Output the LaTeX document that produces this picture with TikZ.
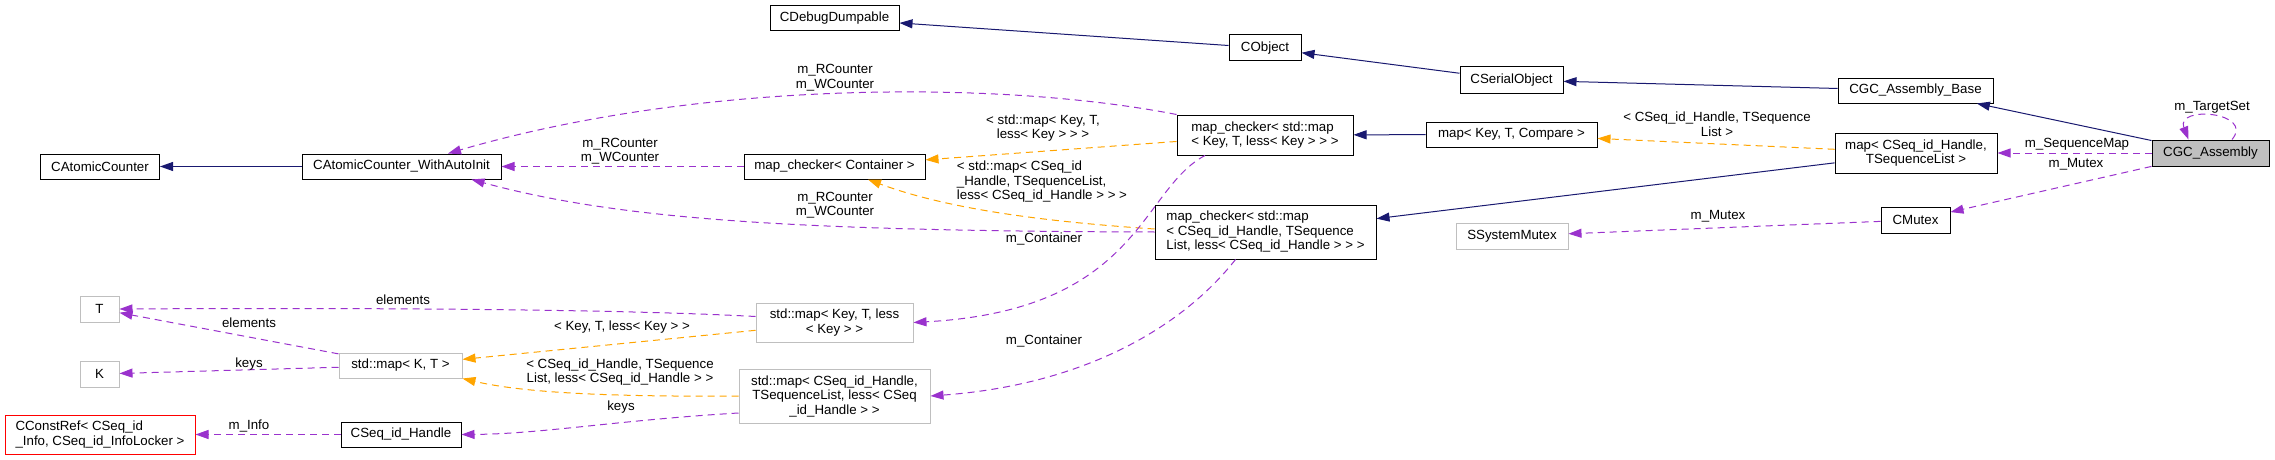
\documentclass[tikz,border=0pt]{standalone}
\usepackage{fontspec}
\setmainfont{Liberation Sans}
\usetikzlibrary{arrows.meta,calc}
\definecolor{navy}{HTML}{191970}
\definecolor{purp}{HTML}{9A32CD}
\definecolor{orng}{HTML}{FFA500}
\definecolor{gry}{HTML}{BFBFBF}
\tikzset{
  nd/.style={draw=black, fill=white, line width=1pt, inner sep=0pt, align=center},
  gnd/.style={nd, draw=gry},
  rnd/.style={nd, draw=red},
  lbl/.style={inner sep=0pt, align=center},
  tip/.style={-{Triangle[length=13pt,width=9pt]}},
  inh/.style={draw=navy, line width=1pt, tip},
  mem/.style={draw=purp, line width=1pt, dash pattern=on 7pt off 5pt, tip},
  tpl/.style={draw=orng, line width=1pt, dash pattern=on 7pt off 5pt, tip}
}
\begin{document}
\begin{tikzpicture}[x=1pt,y=-1pt,font=\fontsize{13.3}{14.5}\selectfont]
\useasboundingbox[fill=white] (0,0) rectangle (2275,460);
% nodes
\node[nd, minimum width=119pt, minimum height=25pt] (CAC) at (100,166.5) {CAtomicCounter};
\node[nd, minimum width=199pt, minimum height=25pt] (AI) at (401.5,166.5) {CAtomicCounter\_WithAutoInit};
\node[nd, minimum width=129pt, minimum height=25pt] (CDD) at (834.5,18.5) {CDebugDumpable};
\node[nd, minimum width=72pt, minimum height=26pt] (CO) at (1265,48) {CObject};
\node[nd, minimum width=103pt, minimum height=26pt] (CSO) at (1511.5,80) {CSerialObject};
\node[nd, minimum width=155pt, minimum height=25pt] (CGB) at (1915.5,90.5) {CGC\_Assembly\_Base};
\node[nd, minimum width=162pt, minimum height=40pt] (MSQ) at (1916,153) {map< CSeq\_id\_Handle,\\TSequenceList >};
\node[nd, fill=gry, minimum width=117pt, minimum height=26pt] (CGC) at (2210.5,153) {CGC\_Assembly};
\node[nd, minimum width=69pt, minimum height=26pt] (CMX) at (1915.5,220) {CMutex};
\node[gnd, minimum width=112pt, minimum height=26pt] (SSM) at (1512,236) {SSystemMutex};
\node[nd, minimum width=171pt, minimum height=25pt] (MKTC) at (1511.5,134.5) {map< Key, T, Compare >};
\node[nd, align=left, minimum width=176pt, minimum height=40pt] (MCK) at (1265,135) {map\_checker< std::map\\< Key, T, less< Key > > >};
\node[nd, align=left, minimum width=221pt, minimum height=54pt] (MCS) at (1265.5,232) {map\_checker< std::map\\< CSeq\_id\_Handle, TSequence\\List, less< CSeq\_id\_Handle > > >};
\node[nd, minimum width=181pt, minimum height=25pt] (MCC) at (834.5,166.5) {map\_checker< Container >};
\node[gnd, minimum width=157pt, minimum height=39pt] (SK) at (834.5,322.5) {std::map< Key, T, less\\< Key > >};
\node[gnd, minimum width=191pt, minimum height=54pt] (SS) at (834.5,396) {std::map< CSeq\_id\_Handle,\\TSequenceList, less< CSeq\\\_id\_Handle > >};
\node[gnd, minimum width=39pt, minimum height=26pt] (T) at (99.5,309) {T};
\node[gnd, minimum width=39pt, minimum height=26pt] (K) at (99.5,374) {K};
\node[gnd, minimum width=123pt, minimum height=25pt] (SKT) at (400.5,365.5) {std::map< K, T >};
\node[nd, minimum width=120pt, minimum height=25pt] (CSH) at (401,434.5) {CSeq\_id\_Handle};
\node[rnd, align=left, minimum width=190pt, minimum height=39pt] (CCR) at (100,434.5) {CConstRef< CSeq\_id\\\_Info, CSeq\_id\_InfoLocker >};
% inheritance
\draw[inh] (AI) -- (CAC);
\draw[inh] (CO) -- (CDD);
\draw[inh] (CSO) -- (CO);
\draw[inh] (CGB) -- (CSO);
\draw[inh] (CGC) -- (CGB);
\draw[inh] (MKTC) -- (MCK);
\draw[inh] (MSQ) -- (MCS);
% template instances
\draw[tpl] (MSQ) -- (MKTC);
\draw[tpl] (MCK) -- (MCC);
\draw[tpl] ($(MCS.west)+(0,-3)$) .. controls (1050,222) and (950,210) .. ($(MCC.south)+(33.5,0)$);
\draw[tpl] (SK) -- (SKT);
\draw[tpl] (SS.west) .. controls (600,397) and (520,392) .. (SKT.south east);
% members
\draw[mem] (CGC) -- (MSQ);
\draw[mem] (CGC) -- (CMX);
\draw[mem] (CMX) -- (SSM);
\draw[mem] ($(CGC.north)+(21.5,0)$) .. controls (2255,112) and (2175,105) .. ($(CGC.north)+(-22,0)$);
\draw[mem] (MCC) -- (AI);
\draw[mem] (MCK.north west) .. controls (1000,80) and (700,80) .. ($(AI.north)+(46.5,0)$);
\draw[mem] (MCS.west) .. controls (800,231) and (620,220) .. ($(AI.south)+(70,0)$);
\draw[mem] ($(MCK.south)+(-60,0)$) .. controls (1140,190) and (1140,310) .. (SK.east);
\draw[mem] ($(MCS.south)+(-30,0)$) .. controls (1180,330) and (1080,385) .. (SS.east);
\draw[mem] ($(SK.west)+(0,-6)$) .. controls (600,308) and (300,308) .. (T.east);
\draw[mem] ($(SS.west)+(0,17)$) .. controls (620,420) and (540,434) .. (CSH.east);
\draw[mem] (SKT) -- (T);
\draw[mem] (SKT) -- (K);
\draw[mem] (CSH) -- (CCR);
% labels
\node[lbl] (l1) at (835,77.5) {m\_RCounter\\m\_WCounter};
\node[lbl] (l2) at (620,151) {m\_RCounter\\m\_WCounter};
\node[lbl] (l3) at (835,205) {m\_RCounter\\m\_WCounter};
\node[lbl] (l4) at (1043,128) {< std::map< Key, T,\\less< Key > > >};
\node[lbl, align=left] (l5) at (1042,182) {< std::map< CSeq\_id\\\_Handle, TSequenceList,\\less< CSeq\_id\_Handle > > >};
\node[lbl] (l6) at (1044,239) {m\_Container};
\node[lbl] (l7) at (1044,341) {m\_Container};
\node[lbl] (l8) at (1717,124) {< CSeq\_id\_Handle, TSequence\\List >};
\node[lbl] (l9) at (1718,216) {m\_Mutex};
\node[lbl] (l10) at (2212,107) {m\_TargetSet};
\node[lbl] (l11) at (2077,144) {m\_SequenceMap};
\node[lbl] (l12) at (2076,164) {m\_Mutex};
\node[lbl] (l13) at (403,300) {elements};
\node[lbl] (l14) at (249,323) {elements};
\node[lbl] (l15) at (249,364) {keys};
\node[lbl] (l16) at (249,426) {m\_Info};
\node[lbl] (l17) at (622,327) {< Key, T, less< Key > >};
\node[lbl] (l18) at (620,372) {< CSeq\_id\_Handle, TSequence\\List, less< CSeq\_id\_Handle > >};
\node[lbl] (l19) at (621,407) {keys};
\end{tikzpicture}
\end{document}
